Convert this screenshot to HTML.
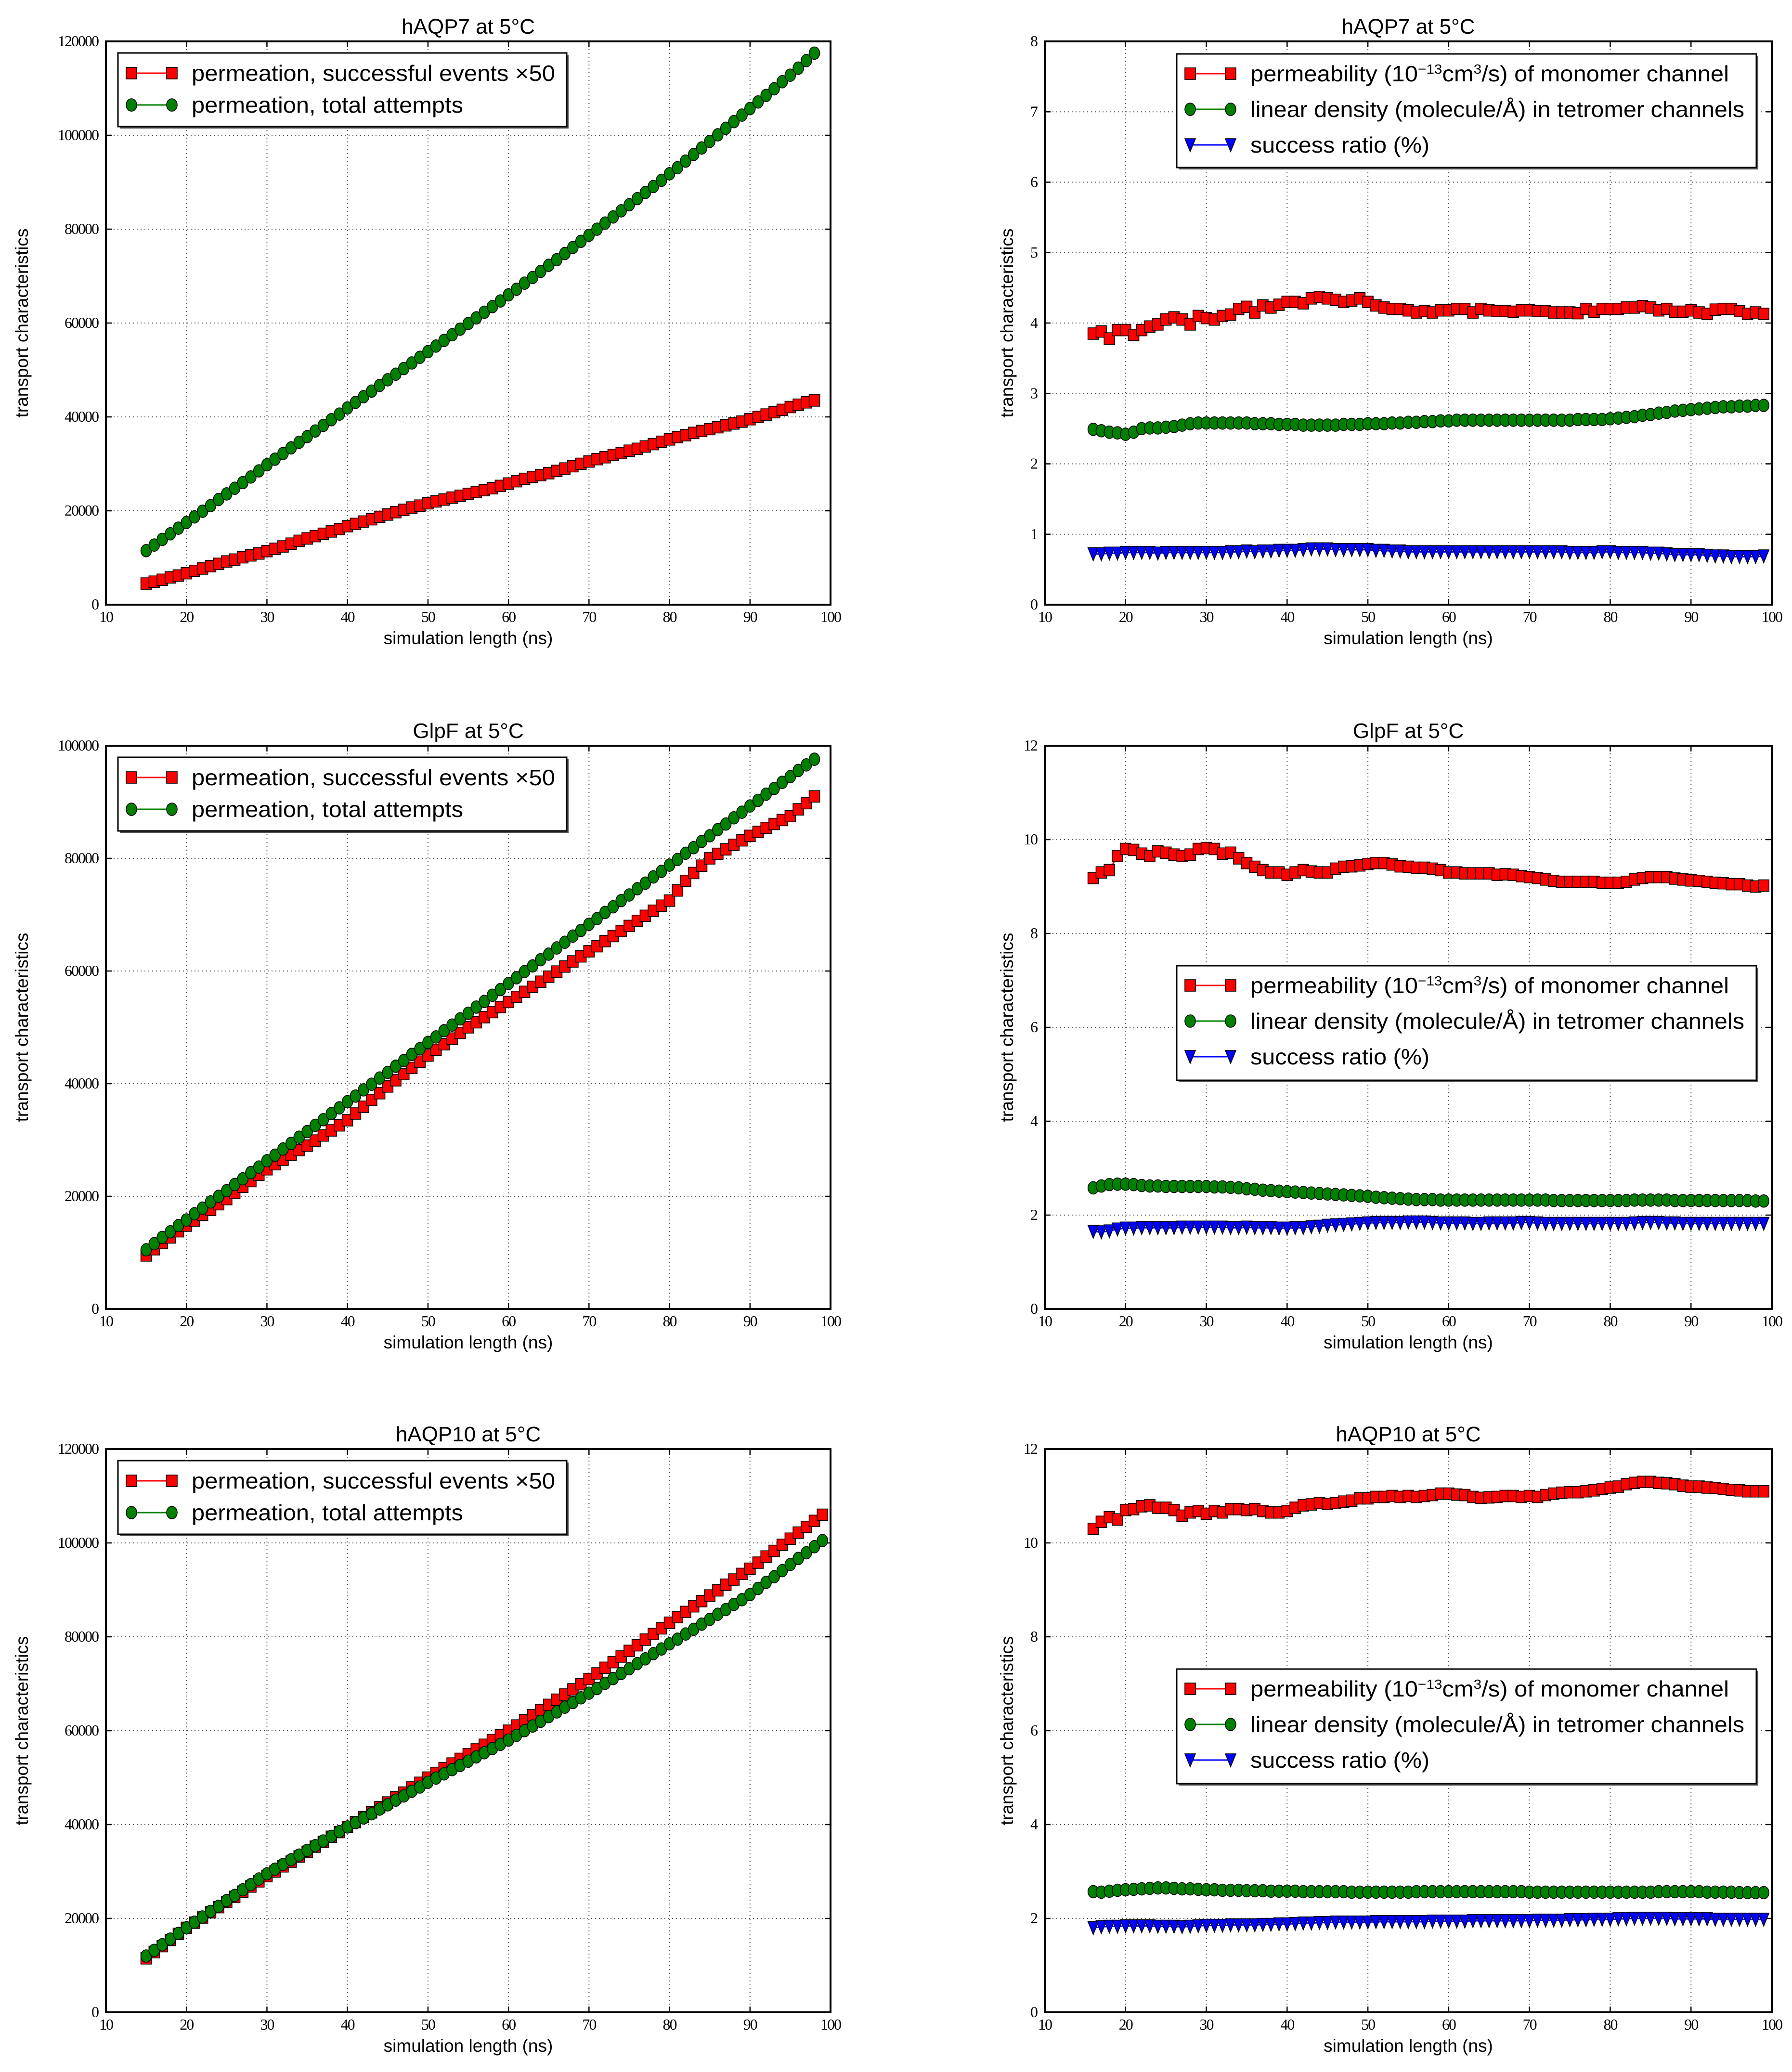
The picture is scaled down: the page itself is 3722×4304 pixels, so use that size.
<!DOCTYPE html>
<html><head><meta charset="utf-8"><style>html,body{margin:0;padding:0;background:#fff}svg{display:block}</style></head>
<body>
<svg id="fig" xmlns="http://www.w3.org/2000/svg" width="3722" height="4304" viewBox="0 0 3722 4304"></svg>
<script>
// ---------- data ----------
const xLeft84 = [15,16,17,18,19,20,21,22,23,24,25,26,27,28,29,30,31,32,33,34,35,36,37,38,39,40,41,42,43,44,45,46,47,48,49,50,51,52,53,54,55,56,57,58,59,60,61,62,63,64,65,66,67,68,69,70,71,72,73,74,75,76,77,78,79,80,81,82,83,84,85,86,87,88,89,90,91,92,93,94,95,96,97,98];
const xLeft85 = [15,16,17,18,19,20,21,22,23,24,25,26,27,28,29,30,31,32,33,34,35,36,37,38,39,40,41,42,43,44,45,46,47,48,49,50,51,52,53,54,55,56,57,58,59,60,61,62,63,64,65,66,67,68,69,70,71,72,73,74,75,76,77,78,79,80,81,82,83,84,85,86,87,88,89,90,91,92,93,94,95,96,97,98,99];
const xRight = [16,17,18,19,20,21,22,23,24,25,26,27,28,29,30,31,32,33,34,35,36,37,38,39,40,41,42,43,44,45,46,47,48,49,50,51,52,53,54,55,56,57,58,59,60,61,62,63,64,65,66,67,68,69,70,71,72,73,74,75,76,77,78,79,80,81,82,83,84,85,86,87,88,89,90,91,92,93,94,95,96,97,98,99];

const xTicks = [10,20,30,40,50,60,70,80,90,100];
const yTicksBig = [0,20000,40000,60000,80000,100000,120000];
const yTicksGlpF = [0,20000,40000,60000,80000,100000];
const yTicks8 = [0,1,2,3,4,5,6,7,8];
const yTicks12 = [0,2,4,6,8,10,12];

const aqp7Success = [4500,4900,5300,5800,6200,6700,7200,7700,8200,8700,9200,9600,10100,10500,10900,11400,11900,12400,13000,13600,14100,14600,15100,15600,16100,16700,17200,17700,18200,18700,19200,19700,20200,20700,21100,21600,22000,22400,22800,23200,23600,24000,24400,24800,25300,25800,26300,26800,27200,27600,28000,28500,29000,29500,30000,30500,31000,31400,31900,32300,32800,33200,33700,34200,34700,35200,35700,36100,36600,37000,37400,37800,38200,38600,39000,39500,40000,40500,41000,41500,42100,42600,43100,43500];
const aqp7Total = [11500,12700,13900,15100,16300,17500,18700,19900,21100,22400,23600,24800,26000,27200,28500,29800,31000,32200,33400,34600,35800,37000,38200,39400,40600,41900,43100,44300,45500,46700,47900,49100,50300,51500,52700,53900,55100,56300,57500,58700,59900,61100,62300,63500,64700,66000,67200,68500,69700,71000,72300,73500,74800,76100,77400,78700,80000,81300,82600,83900,85200,86500,87800,89100,90400,91800,93100,94500,95900,97300,98700,100100,101500,102900,104300,105700,107100,108500,109900,111400,112800,114300,115900,117500];

const glpfSuccess = [9500,10600,11700,12700,13800,14800,15700,16700,17600,18600,19500,20600,21700,22700,23800,24800,25700,26500,27400,28200,29000,29900,30800,31700,32600,33500,34700,35900,37100,38300,39500,40600,41700,42800,43900,45000,46000,47000,48000,49000,50000,50900,51800,52700,53600,54500,55400,56300,57200,58100,59000,59900,60800,61700,62600,63500,64400,65300,66200,67100,68000,68900,69800,70700,71600,72500,74300,76000,77400,78700,80000,80800,81600,82400,83200,84000,84700,85400,86100,86800,87500,88700,89800,91000];
const glpfTotal = [10500,11600,12700,13700,14800,15800,16900,17900,19000,20000,21000,22100,23100,24200,25200,26300,27300,28400,29400,30500,31500,32600,33600,34700,35700,36800,37800,38900,39900,41000,42000,43100,44100,45200,46200,47300,48300,49400,50400,51500,52500,53600,54600,55700,56700,57800,58800,59900,60900,62000,63000,64100,65100,66200,67200,68300,69300,70400,71400,72500,73500,74600,75600,76700,77700,78800,79800,80900,81900,83000,84000,85100,86100,87200,88200,89300,90300,91400,92400,93500,94500,95600,96600,97600];

const aqp10Success = [11500,12800,14100,15400,16700,18000,19100,20200,21300,22400,23500,24600,25700,26800,27900,29000,30000,31100,32100,33200,34200,35300,36300,37400,38400,39500,40500,41600,42600,43700,44700,45800,46800,47900,48900,50000,51000,52000,53000,54000,55000,56000,57000,58000,59000,60000,61100,62200,63300,64400,65500,66600,67700,68800,69900,71000,72200,73400,74600,75800,77000,78200,79400,80600,81800,83000,84200,85300,86500,87600,88800,89900,91100,92200,93400,94500,95800,97100,98300,99600,100900,102200,103400,104700,106000];
const aqp10Total = [12000,13200,14400,15600,16800,18000,19200,20300,21500,22600,23800,24900,26100,27200,28400,29500,30500,31500,32500,33500,34500,35500,36500,37500,38500,39500,40400,41400,42300,43300,44200,45200,46100,47100,48000,49000,49900,50800,51700,52600,53500,54400,55300,56200,57100,58000,59000,60000,61000,62000,63000,64000,65000,66000,67000,68000,69000,70100,71100,72200,73200,74300,75300,76400,77400,78500,79500,80600,81600,82700,83700,84800,85800,86900,87900,89000,90300,91600,92800,94100,95400,96700,97900,99200,100500];

const aqp7Perm = [3.85,3.88,3.78,3.9,3.9,3.83,3.9,3.95,3.98,4.05,4.08,4.05,3.98,4.1,4.07,4.05,4.1,4.12,4.2,4.23,4.15,4.25,4.22,4.26,4.3,4.3,4.28,4.35,4.37,4.35,4.33,4.3,4.32,4.35,4.3,4.25,4.22,4.2,4.2,4.18,4.15,4.17,4.15,4.18,4.18,4.2,4.2,4.15,4.2,4.18,4.17,4.17,4.16,4.18,4.18,4.17,4.17,4.15,4.15,4.15,4.14,4.2,4.16,4.2,4.2,4.2,4.22,4.22,4.24,4.22,4.18,4.2,4.16,4.16,4.18,4.15,4.13,4.19,4.2,4.2,4.17,4.13,4.15,4.13];
const aqp7Density = [2.49,2.47,2.45,2.44,2.42,2.45,2.5,2.51,2.51,2.52,2.53,2.55,2.57,2.58,2.58,2.58,2.58,2.58,2.58,2.58,2.57,2.57,2.57,2.56,2.56,2.56,2.55,2.55,2.55,2.55,2.55,2.56,2.56,2.56,2.57,2.57,2.57,2.58,2.58,2.59,2.59,2.6,2.6,2.61,2.61,2.62,2.62,2.62,2.62,2.62,2.62,2.62,2.62,2.62,2.62,2.62,2.62,2.62,2.62,2.62,2.63,2.63,2.63,2.63,2.64,2.65,2.66,2.67,2.69,2.7,2.72,2.73,2.75,2.76,2.77,2.78,2.79,2.8,2.81,2.81,2.82,2.82,2.83,2.83];
const aqp7Ratio = [0.72,0.72,0.73,0.73,0.74,0.74,0.74,0.74,0.73,0.74,0.74,0.74,0.74,0.74,0.74,0.74,0.74,0.75,0.75,0.76,0.75,0.76,0.76,0.77,0.77,0.77,0.78,0.79,0.79,0.79,0.78,0.78,0.78,0.78,0.78,0.77,0.77,0.76,0.76,0.75,0.75,0.75,0.75,0.75,0.75,0.75,0.75,0.75,0.75,0.75,0.75,0.75,0.75,0.75,0.75,0.75,0.75,0.75,0.75,0.74,0.74,0.74,0.74,0.75,0.75,0.74,0.74,0.74,0.74,0.73,0.73,0.72,0.71,0.71,0.71,0.71,0.7,0.69,0.69,0.68,0.68,0.68,0.68,0.69];

const glpfPerm = [9.18,9.3,9.35,9.65,9.8,9.78,9.7,9.65,9.75,9.72,9.68,9.65,9.68,9.8,9.82,9.8,9.7,9.72,9.6,9.5,9.42,9.35,9.3,9.3,9.25,9.3,9.35,9.32,9.3,9.3,9.38,9.42,9.43,9.45,9.48,9.5,9.5,9.47,9.43,9.42,9.4,9.4,9.38,9.35,9.3,9.3,9.28,9.28,9.28,9.28,9.25,9.26,9.25,9.22,9.2,9.18,9.15,9.12,9.1,9.1,9.1,9.1,9.1,9.08,9.08,9.08,9.1,9.15,9.18,9.2,9.2,9.2,9.17,9.15,9.13,9.12,9.1,9.08,9.07,9.05,9.05,9.02,9.0,9.02];
const glpfDensity = [2.58,2.62,2.65,2.66,2.66,2.65,2.63,2.62,2.62,2.61,2.61,2.61,2.61,2.61,2.61,2.6,2.6,2.59,2.58,2.56,2.55,2.53,2.52,2.51,2.5,2.49,2.48,2.47,2.46,2.45,2.44,2.43,2.42,2.41,2.4,2.38,2.37,2.36,2.35,2.34,2.33,2.33,2.33,2.32,2.32,2.32,2.32,2.32,2.32,2.32,2.32,2.32,2.32,2.32,2.32,2.32,2.32,2.31,2.31,2.31,2.31,2.31,2.31,2.31,2.31,2.31,2.31,2.32,2.32,2.32,2.32,2.32,2.31,2.31,2.31,2.31,2.31,2.31,2.31,2.31,2.31,2.31,2.3,2.3];
const glpfRatio = [1.65,1.64,1.66,1.7,1.72,1.72,1.73,1.73,1.73,1.73,1.73,1.74,1.74,1.74,1.74,1.74,1.74,1.73,1.73,1.74,1.73,1.73,1.73,1.72,1.72,1.73,1.73,1.75,1.76,1.78,1.79,1.8,1.81,1.82,1.83,1.84,1.84,1.84,1.84,1.85,1.85,1.85,1.84,1.83,1.83,1.83,1.83,1.82,1.82,1.83,1.83,1.83,1.83,1.84,1.84,1.83,1.82,1.82,1.82,1.82,1.82,1.82,1.82,1.82,1.82,1.82,1.82,1.83,1.84,1.84,1.84,1.83,1.83,1.82,1.82,1.82,1.82,1.82,1.82,1.82,1.82,1.82,1.82,1.82];

const aqp10Perm = [10.3,10.45,10.55,10.5,10.7,10.72,10.78,10.8,10.75,10.75,10.7,10.58,10.65,10.68,10.62,10.68,10.65,10.72,10.72,10.7,10.72,10.68,10.65,10.65,10.68,10.75,10.8,10.82,10.85,10.83,10.85,10.88,10.9,10.95,10.95,10.98,10.98,11.0,10.98,11.0,10.98,11.0,11.02,11.05,11.05,11.03,11.02,10.98,10.96,10.97,10.98,11.0,11.0,10.98,11.0,10.98,11.02,11.05,11.07,11.08,11.08,11.1,11.12,11.15,11.18,11.2,11.25,11.28,11.3,11.3,11.28,11.27,11.25,11.22,11.2,11.2,11.18,11.17,11.15,11.13,11.12,11.1,11.1,11.1];
const aqp10Density = [2.57,2.56,2.58,2.6,2.61,2.62,2.63,2.64,2.65,2.65,2.64,2.63,2.63,2.62,2.61,2.61,2.6,2.6,2.6,2.59,2.59,2.59,2.58,2.58,2.58,2.58,2.57,2.57,2.57,2.57,2.57,2.57,2.56,2.56,2.56,2.56,2.56,2.56,2.56,2.56,2.57,2.57,2.57,2.57,2.57,2.57,2.57,2.57,2.57,2.57,2.57,2.57,2.57,2.57,2.56,2.56,2.56,2.56,2.56,2.56,2.56,2.56,2.56,2.56,2.56,2.56,2.56,2.56,2.56,2.56,2.57,2.57,2.57,2.57,2.57,2.57,2.56,2.56,2.56,2.56,2.55,2.55,2.55,2.55];
const aqp10Ratio = [1.8,1.82,1.83,1.83,1.84,1.84,1.84,1.84,1.83,1.83,1.83,1.82,1.83,1.84,1.85,1.85,1.85,1.86,1.86,1.86,1.86,1.87,1.87,1.88,1.88,1.89,1.9,1.9,1.91,1.91,1.92,1.92,1.92,1.92,1.92,1.93,1.93,1.93,1.93,1.93,1.93,1.93,1.94,1.94,1.94,1.94,1.94,1.95,1.95,1.95,1.95,1.95,1.95,1.95,1.95,1.96,1.96,1.96,1.96,1.97,1.97,1.97,1.98,1.98,1.98,1.99,1.99,2.0,2.0,2.0,2.0,2.0,1.99,1.99,1.99,1.99,1.99,1.98,1.98,1.98,1.98,1.98,1.98,1.98];

// ---------- drawing ----------
const NS = 'http://www.w3.org/2000/svg';
const svg = document.getElementById('fig');
function mk(tag, attrs, parent) {
  const e = document.createElementNS(NS, tag);
  for (const k in attrs) e.setAttribute(k, attrs[k]);
  (parent || svg).appendChild(e);
  return e;
}
const LX0 = 220, LX1 = 1725, RX0 = 2170, RX1 = 3680, PH = 1170;
const ROWS = [86, 1549, 3010];

function fmtTick(v){ return String(v); }

function drawMarker(g, kind, cx, cy, fill) {
  let m;
  if (kind === 's') m = mk('rect', {x: cx-11, y: cy-12, width: 22, height: 24, fill: fill, stroke: '#000', 'stroke-width': 1.6}, g);
  else if (kind === 'o') m = mk('ellipse', {cx: cx, cy: cy, rx: 11, ry: 13, fill: fill, stroke: '#000', 'stroke-width': 1.6}, g);
  else m = mk('polygon', {points: (cx-11)+','+(cy-13)+' '+(cx+11)+','+(cy-13)+' '+cx+','+(cy+14), fill: fill, stroke: '#000', 'stroke-width': 1.6}, g);
  return m;
}

function drawPlot(p) {
  const g = mk('g', {});
  
  
  const x0 = p.x0, x1 = p.x1, y0 = p.top, y1 = p.top + PH;
  const sx = v => x0 + (v - 10) / 90 * (x1 - x0);
  const sy = v => y1 - v / p.ymax * (y1 - y0);
  const grid = mk('g', {stroke: '#555', 'stroke-width': 2, 'stroke-dasharray': '2 6'}, g);
  
  
  xTicks.forEach(t => { if (t > 10 && t < 100) mk('line', {x1: sx(t), x2: sx(t), y1: y0, y2: y1}, grid); });
  p.yticks.forEach(t => { if (t > 0 && t < p.ymax) mk('line', {x1: x0, x2: x1, y1: sy(t), y2: sy(t)}, grid); });
  const tk = mk('g', {stroke: '#000', 'stroke-width': 2.5}, g);
  xTicks.forEach(t => { mk('line', {x1: sx(t), x2: sx(t), y1: y1, y2: y1-12}, tk); mk('line', {x1: sx(t), x2: sx(t), y1: y0, y2: y0+12}, tk); });
  p.yticks.forEach(t => { mk('line', {x1: x0, x2: x0+12, y1: sy(t), y2: sy(t)}, tk); mk('line', {x1: x1, x2: x1-12, y1: sy(t), y2: sy(t)}, tk); });
  const tl = mk('g', {'font-family': '"Liberation Serif", serif', 'font-size': 32, fill: '#000', 'letter-spacing': -2}, g);
  xTicks.forEach(t => {
    const e = mk('text', {x: sx(t), y: y1 + 36, 'text-anchor': 'middle'}, tl);
    e.textContent = fmtTick(t);
    
    
  });
  p.yticks.forEach(t => {
    const e = mk('text', {x: x0 - 16, y: sy(t) + 10, 'text-anchor': 'end'}, tl);
    e.textContent = fmtTick(t);
    
    
  });
  p.series.forEach(s => {
    const sg = mk('g', {}, g);
    
    
    const pts = s.x.map((xv, i) => sx(xv) + ',' + sy(s.y[i])).join(' ');
    mk('polyline', {points: pts, fill: 'none', stroke: s.color, 'stroke-width': 3}, sg);
    s.x.forEach((xv, i) => {
      const m = drawMarker(sg, s.marker, sx(xv), sy(s.y[i]), s.color);
      
      
    });
  });
  const fr = mk('rect', {x: x0, y: y0, width: x1-x0, height: y1-y0, fill: 'none', stroke: '#000', 'stroke-width': 4}, g);
  
  
  const tt = mk('text', {x: (x0+x1)/2, y: y0 - 16, 'text-anchor': 'middle', 'font-family': '"Liberation Sans", sans-serif', 'font-size': 44}, g);
  tt.textContent = p.title;
  
  
  const xl = mk('text', {x: (x0+x1)/2, y: y1 + 82, 'text-anchor': 'middle', 'font-family': '"Liberation Sans", sans-serif', 'font-size': 37}, g);
  xl.textContent = 'simulation length (ns)';
  
  
  const yl = mk('text', {x: 0, y: 0, 'text-anchor': 'middle', 'font-family': '"Liberation Sans", sans-serif', 'font-size': 37, transform: 'translate(' + p.ylx + ',' + ((y0+y1)/2) + ') rotate(-90)'}, g);
  yl.textContent = 'transport characteristics';
  
  
  const L = p.legend;
  const lg = mk('g', {}, g);
  
  
  mk('rect', {x: L.x+4, y: L.y+4, width: L.w, height: L.h, fill: '#555'}, lg);
  mk('rect', {x: L.x, y: L.y, width: L.w, height: L.h, fill: '#fff', stroke: '#000', 'stroke-width': 3}, lg);
  p.series.forEach((s, i) => {
    const cy = L.y + L.first + i * L.step;
    const hx0 = L.x + 28, hx1 = L.x + 112;
    const ent = mk('g', {}, lg);
    
    
    mk('line', {x1: hx0, x2: hx1, y1: cy, y2: cy, stroke: s.color, 'stroke-width': 3}, ent);
    drawMarker(ent, s.marker, hx0, cy, s.color);
    drawMarker(ent, s.marker, hx1, cy, s.color);
    const t = mk('text', {x: L.x + 153, y: cy + 16, 'font-family': '"Liberation Sans", sans-serif', 'font-size': 46, textLength: s.tlen, lengthAdjust: 'spacingAndGlyphs'}, ent);
    t.innerHTML = s.label;
  });
}

const legL = top => ({x: 245, y: top + 24, w: 932, h: 153, first: 42, step: 66});
const legR1 = top => ({x: 2444, y: top + 26, w: 1204, h: 236, first: 41, step: 74});
const legR2 = top => ({x: 2444, y: top + 457, w: 1204, h: 238, first: 41, step: 74});
const lblS = 'permeation, successful events  ×50';
const lblT = 'permeation, total attempts';
const lblP = 'permeability (10<tspan dy="-16" font-size="28">−13</tspan><tspan dy="16">cm</tspan><tspan dy="-16" font-size="28">3</tspan><tspan dy="16">/s) of monomer channel</tspan>';
const lblD = 'linear density (molecule/Å) in tetromer channels';
const lblR = 'success ratio (%)';
const TS = 755, TT = 564, TP = 994, TD = 1026, TR = 372;

drawPlot({name: 'chart-haqp7-counts', title: 'hAQP7 at 5°C', x0: LX0, x1: LX1, top: ROWS[0], ymax: 120000, yticks: yTicksBig, ylx: 58, legend: legL(ROWS[0]),
  series: [{name: 'series-successful', x: xLeft84, y: aqp7Success, color: '#f00', marker: 's', label: lblS, tlen: TS},
           {name: 'series-total', x: xLeft84, y: aqp7Total, color: '#008000', marker: 'o', label: lblT, tlen: TT}]});
drawPlot({name: 'chart-haqp7-characteristics', title: 'hAQP7 at 5°C', x0: RX0, x1: RX1, top: ROWS[0], ymax: 8, yticks: yTicks8, ylx: 2104, legend: legR1(ROWS[0]),
  series: [{name: 'series-permeability', x: xRight, y: aqp7Perm, color: '#f00', marker: 's', label: lblP, tlen: TP},
           {name: 'series-density', x: xRight, y: aqp7Density, color: '#008000', marker: 'o', label: lblD, tlen: TD},
           {name: 'series-ratio', x: xRight, y: aqp7Ratio, color: '#00f', marker: 'v', label: lblR, tlen: TR}]});
drawPlot({name: 'chart-glpf-counts', title: 'GlpF at 5°C', x0: LX0, x1: LX1, top: ROWS[1], ymax: 100000, yticks: yTicksGlpF, ylx: 58, legend: legL(ROWS[1]),
  series: [{name: 'series-successful', x: xLeft84, y: glpfSuccess, color: '#f00', marker: 's', label: lblS, tlen: TS},
           {name: 'series-total', x: xLeft84, y: glpfTotal, color: '#008000', marker: 'o', label: lblT, tlen: TT}]});
drawPlot({name: 'chart-glpf-characteristics', title: 'GlpF at 5°C', x0: RX0, x1: RX1, top: ROWS[1], ymax: 12, yticks: yTicks12, ylx: 2104, legend: legR2(ROWS[1]),
  series: [{name: 'series-permeability', x: xRight, y: glpfPerm, color: '#f00', marker: 's', label: lblP, tlen: TP},
           {name: 'series-density', x: xRight, y: glpfDensity, color: '#008000', marker: 'o', label: lblD, tlen: TD},
           {name: 'series-ratio', x: xRight, y: glpfRatio, color: '#00f', marker: 'v', label: lblR, tlen: TR}]});
drawPlot({name: 'chart-haqp10-counts', title: 'hAQP10 at 5°C', x0: LX0, x1: LX1, top: ROWS[2], ymax: 120000, yticks: yTicksBig, ylx: 58, legend: legL(ROWS[2]),
  series: [{name: 'series-successful', x: xLeft85, y: aqp10Success, color: '#f00', marker: 's', label: lblS, tlen: TS},
           {name: 'series-total', x: xLeft85, y: aqp10Total, color: '#008000', marker: 'o', label: lblT, tlen: TT}]});
drawPlot({name: 'chart-haqp10-characteristics', title: 'hAQP10 at 5°C', x0: RX0, x1: RX1, top: ROWS[2], ymax: 12, yticks: yTicks12, ylx: 2104, legend: legR2(ROWS[2]),
  series: [{name: 'series-permeability', x: xRight, y: aqp10Perm, color: '#f00', marker: 's', label: lblP, tlen: TP},
           {name: 'series-density', x: xRight, y: aqp10Density, color: '#008000', marker: 'o', label: lblD, tlen: TD},
           {name: 'series-ratio', x: xRight, y: aqp10Ratio, color: '#00f', marker: 'v', label: lblR, tlen: TR}]});
</script>
</body></html>
